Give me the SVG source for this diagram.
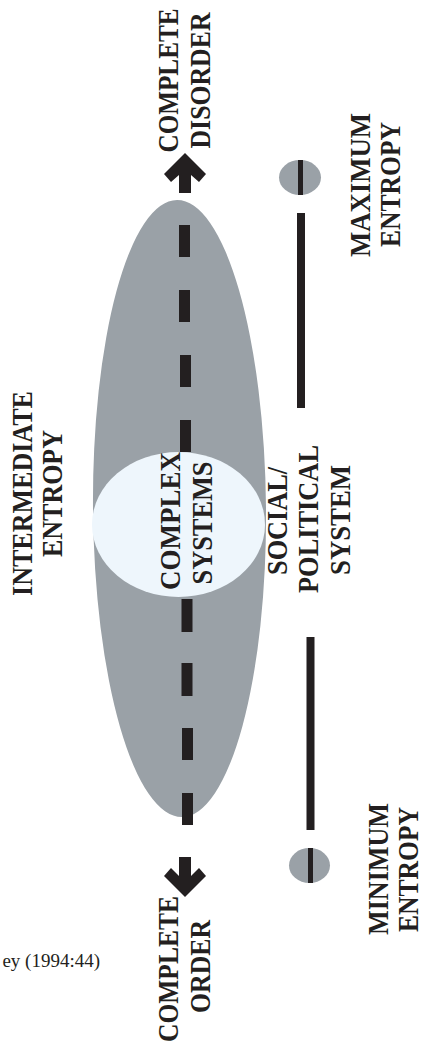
<svg xmlns="http://www.w3.org/2000/svg" width="423" height="1043" viewBox="0 0 423 1043">
<style>
.lbl{font-family:"Liberation Serif","Times New Roman",serif;font-weight:bold;font-size:30px;fill:#231f20;text-anchor:middle}
.src{font-family:"Liberation Serif","Times New Roman",serif;font-size:19px;fill:#231f20}
.dk{fill:#231f20}
.gray{fill:#9aa1a7}
</style>
<rect width="423" height="1043" fill="#ffffff"/>
<g id="entropy-range">
<ellipse class="gray" cx="179.5" cy="508.5" rx="86.5" ry="308.5" transform="rotate(-0.46 179.5 508.5)"/>
</g>
<g id="connectors">
<g class="dk">
<rect x="179" y="225" width="11" height="32"/>
<rect x="179" y="290" width="11" height="32"/>
<rect x="180" y="355" width="11" height="32"/>
<rect x="180" y="420" width="11" height="32"/>
<rect x="181.5" y="599" width="11" height="33"/>
<rect x="181.5" y="663" width="11" height="33"/>
<rect x="182" y="728" width="11" height="32"/>
<rect x="182" y="793" width="11" height="32"/>
<polygon points="185,153 206,174 199,182 191,175 191,193 179,193 179,175 171,182 164,174"/>
<polygon points="185,897 164,876 171,868 179,876 179,857 191,857 191,876 199,868 206,876"/>
<rect x="297" y="213" width="8" height="195"/>
<rect x="306.5" y="637" width="8" height="193"/>
</g>
</g>
<g id="complex-systems">
<ellipse cx="178.5" cy="524.5" rx="86.5" ry="72.5" fill="#eef6fc"/>
<text class="lbl" transform="translate(180,521) rotate(-90) scale(0.9,1)">COMPLEX</text>
<text class="lbl" transform="translate(212,523) rotate(-90) scale(0.879,1)">SYSTEMS</text>
</g>
<g id="max-entropy-node">
<ellipse class="gray" cx="300" cy="177.5" rx="21" ry="17.5"/>
<rect class="dk" x="298" y="160" width="5" height="35"/>
</g>
<g id="min-entropy-node">
<ellipse class="gray" cx="309.5" cy="865.5" rx="20.5" ry="17.5"/>
<rect class="dk" x="308" y="848" width="5" height="35"/>
</g>
<g id="complete-disorder">
<text class="lbl" transform="translate(178,80.5) rotate(-90) scale(0.839,1)">COMPLETE</text>
<text class="lbl" transform="translate(210,80.5) rotate(-90) scale(0.859,1)">DISORDER</text>
</g>
<g id="intermediate-entropy">
<text class="lbl" transform="translate(32,493.5) rotate(-90) scale(0.868,1)">INTERMEDIATE</text>
<text class="lbl" transform="translate(62,493.5) rotate(-90) scale(0.866,1)">ENTROPY</text>
</g>
<g id="social-political-system">
<text class="lbl" transform="translate(287,521) rotate(-90) scale(0.875,1)">SOCIAL/</text>
<text class="lbl" transform="translate(318,519) rotate(-90) scale(0.879,1)">POLITICAL</text>
<text class="lbl" transform="translate(350,520) rotate(-90) scale(0.891,1)">SYSTEM</text>
</g>
<g id="maximum-entropy">
<text class="lbl" transform="translate(370,185) rotate(-90) scale(0.891,1)">MAXIMUM</text>
<text class="lbl" transform="translate(400,184.5) rotate(-90) scale(0.852,1)">ENTROPY</text>
</g>
<g id="minimum-entropy">
<text class="lbl" transform="translate(388,869) rotate(-90) scale(0.871,1)">MINIMUM</text>
<text class="lbl" transform="translate(418,869.5) rotate(-90) scale(0.852,1)">ENTROPY</text>
</g>
<g id="complete-order">
<text class="lbl" transform="translate(178,969) rotate(-90) scale(0.85,1)">COMPLETE</text>
<text class="lbl" transform="translate(210,966.5) rotate(-90) scale(0.859,1)">ORDER</text>
</g>
<g id="source">
<text class="src" x="100" y="967" text-anchor="end">ey (1994:44)</text>
</g>
</svg>
